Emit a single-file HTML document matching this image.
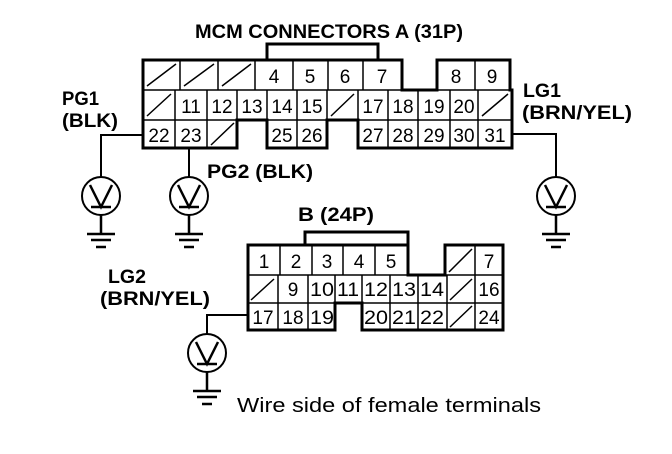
<!DOCTYPE html>
<html><head><style>
body{margin:0;background:#fff;}
svg{display:block;}
text{font-family:"Liberation Sans",sans-serif;fill:#000;}
.n{font-size:19px;text-anchor:middle;}
.b{font-weight:bold;font-size:19px;}
</style></head><body>
<svg width="672" height="454" viewBox="0 0 672 454" xmlns="http://www.w3.org/2000/svg">
<defs>
<g id="m">
<circle cx="0" cy="0" r="19" fill="#fff" stroke="#000" stroke-width="2"/>
<path d="M-11,-11 L0,11 L11,-11 M-10,11 H10 M0,19 V38 M-14,38 H14 M-10,44 H10 M-5,51 H5" fill="none" stroke="#000" stroke-width="2.5"/>
</g>
</defs>
<text x="195" y="38" class="b" textLength="268" lengthAdjust="spacingAndGlyphs">MCM CONNECTORS A (31P)</text>
<path d="M267,60 V44 H378 V60" fill="none" stroke="#000" stroke-width="3"/>
<g fill="none" stroke="#000" stroke-width="1.5">
<path d="M143,60 H402 M180,60 V90 M218,60 V90 M255,60 V90 M293,60 V90 M328,60 V90 M363,60 V90 M437,60 H510 M475,60 V90"/>
<path d="M143,90 H512 M143,120 H512"/>
<path d="M175,90 V148 M207,90 V148 M237,90 V120 M267,90 V148 M297,90 V148 M327,90 V148 M358,90 V148 M388,90 V148 M418,90 V148 M450,90 V148 M478,90 V148"/>
<path d="M147,86 L176,64 M184,86 L214,64 M222,86 L251,64 M147,116 L171,94 M331,116 L354,94 M482,116 L508,94 M211,145 L234,123"/>
</g>
<path d="M143,60 H402 V90 H437 V60 H510 V90 H512 V148 H358 V120 H327 V148 H267 V120 H237 V148 H143 Z" fill="none" stroke="#000" stroke-width="3"/>
<text x="274" y="83" class="n">4</text><text x="310" y="83" class="n">5</text><text x="345" y="83" class="n">6</text><text x="382" y="83" class="n">7</text><text x="456" y="83" class="n">8</text><text x="492" y="83" class="n">9</text>
<text x="191" y="113" class="n">11</text><text x="222" y="113" class="n">12</text><text x="252" y="113" class="n">13</text><text x="282" y="113" class="n">14</text><text x="312" y="113" class="n">15</text>
<text x="373" y="113" class="n">17</text><text x="403" y="113" class="n">18</text><text x="434" y="113" class="n">19</text><text x="464" y="113" class="n">20</text>
<text x="159" y="142" class="n">22</text><text x="191" y="142" class="n">23</text><text x="282" y="142" class="n">25</text><text x="312" y="142" class="n">26</text>
<text x="373" y="142" class="n">27</text><text x="403" y="142" class="n">28</text><text x="434" y="142" class="n">29</text><text x="464" y="142" class="n">30</text><text x="495" y="142" class="n">31</text>
<path d="M143,135 H101 V177 M189,148 V177 M512,134 H556 V177" fill="none" stroke="#000" stroke-width="2"/>
<use href="#m" x="101" y="196"/><use href="#m" x="189" y="196"/><use href="#m" x="556" y="196"/>
<text x="62" y="105" class="b" textLength="37" lengthAdjust="spacingAndGlyphs">PG1</text><text x="62" y="127" class="b" textLength="56" lengthAdjust="spacingAndGlyphs">(BLK)</text>
<text x="207" y="178" class="b" textLength="106" lengthAdjust="spacingAndGlyphs">PG2 (BLK)</text>
<text x="523" y="97" class="b" textLength="38" lengthAdjust="spacingAndGlyphs">LG1</text><text x="522" y="119" class="b" textLength="110" lengthAdjust="spacingAndGlyphs">(BRN/YEL)</text>
<text x="298" y="221" class="b" textLength="76" lengthAdjust="spacingAndGlyphs">B (24P)</text>
<path d="M305,245 V232 H408 V245" fill="none" stroke="#000" stroke-width="3"/>
<g fill="none" stroke="#000" stroke-width="1.5">
<path d="M248,275 H503 M248,303 H503"/>
<path d="M280,245 V275 M312,245 V275 M343,245 V275 M375,245 V275 M475,245 V330"/>
<path d="M278,275 V330 M308,275 V330 M335,275 V303 M362,275 V330 M390,275 V330 M418,275 V330 M447,275 V330"/>
<path d="M449,272 L472,249 M251,300 L274,279 M450,300 L472,279 M450,327 L472,306"/>
</g>
<path d="M248,245 H408 V275 H445 V245 H503 V330 H362 V303 H335 V330 H248 Z" fill="none" stroke="#000" stroke-width="3"/>
<text x="264" y="268" class="n">1</text><text x="296" y="268" class="n">2</text><text x="327" y="268" class="n">3</text><text x="359" y="268" class="n">4</text><text x="391" y="268" class="n">5</text><text x="489" y="268" class="n">7</text>
<text x="293" y="296" class="n">9</text><text x="322" y="296" class="n" textLength="24" lengthAdjust="spacingAndGlyphs">10</text><text x="348" y="296" class="n" textLength="22" lengthAdjust="spacingAndGlyphs">11</text><text x="376" y="296" class="n" textLength="24" lengthAdjust="spacingAndGlyphs">12</text><text x="404" y="296" class="n" textLength="24" lengthAdjust="spacingAndGlyphs">13</text><text x="432" y="296" class="n" textLength="24" lengthAdjust="spacingAndGlyphs">14</text><text x="489" y="296" class="n">16</text>
<text x="263" y="324" class="n">17</text><text x="293" y="324" class="n">18</text><text x="322" y="324" class="n" textLength="24" lengthAdjust="spacingAndGlyphs">19</text><text x="376" y="324" class="n" textLength="24" lengthAdjust="spacingAndGlyphs">20</text><text x="404" y="324" class="n" textLength="24" lengthAdjust="spacingAndGlyphs">21</text><text x="432" y="324" class="n" textLength="24" lengthAdjust="spacingAndGlyphs">22</text><text x="489" y="324" class="n">24</text>
<path d="M248,315 H207 V334" fill="none" stroke="#000" stroke-width="2"/>
<use href="#m" x="207" y="353"/>
<text x="108" y="283" class="b" textLength="38" lengthAdjust="spacingAndGlyphs">LG2</text><text x="100" y="305" class="b" textLength="110" lengthAdjust="spacingAndGlyphs">(BRN/YEL)</text>
<text x="237" y="412" style="font-size:20px" textLength="304" lengthAdjust="spacingAndGlyphs">Wire side of female terminals</text>
</svg>
</body></html>
